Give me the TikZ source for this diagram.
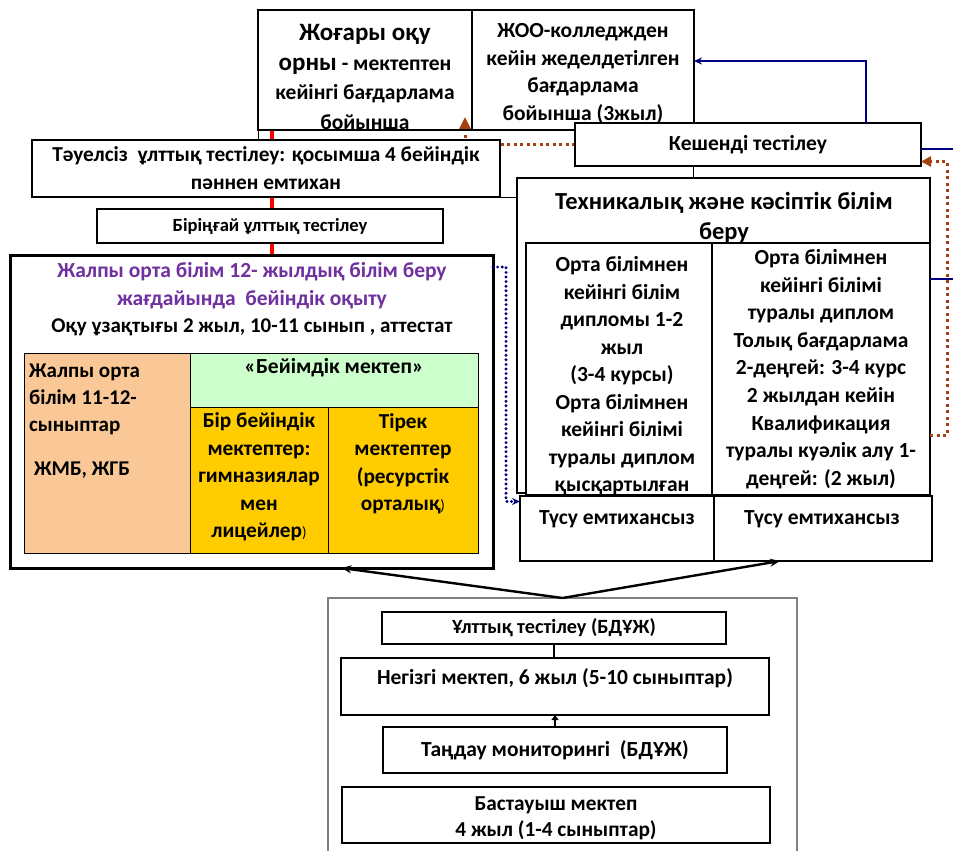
\documentclass[tikz,border=0pt]{standalone}
\usepackage{fontspec}
\setmainfont{Carlito}
\usetikzlibrary{arrows.meta,backgrounds}

\definecolor{purp}{RGB}{112,48,160}
\definecolor{peach}{RGB}{250,200,150}
\definecolor{mint}{RGB}{204,255,204}
\definecolor{gold}{RGB}{255,204,0}
\definecolor{navy}{RGB}{0,0,130}
\definecolor{rust}{RGB}{165,65,15}

\tikzset{
  box/.style={draw, line width=2.6pt, inner sep=0pt, outer sep=0pt, anchor=north west},
  cell/.style={draw, line width=0.9pt, inner sep=0pt, outer sep=0pt, anchor=north west},
  frame/.style={draw=gray, line width=1.2pt, inner sep=0pt, outer sep=0pt, anchor=north west},
  txt/.style 2 args={align=center, inner sep=0pt, font=\bfseries\fontsize{#1}{#2}\selectfont},
  redline/.style={red, line width=4.5pt},
  blueline/.style={navy, line width=2.4pt},
  rustdots/.style={rust, line width=3pt, dash pattern=on 3pt off 3.5pt},
  navydots/.style={navy, line width=3.2pt, dash pattern=on 0pt off 4.6pt, line cap=round},
  hairline/.style={line width=0.8pt},
  arr/.style={line width=2.4pt, -{Stealth[length=10pt,width=8pt]}},
}

\begin{document}
\begin{tikzpicture}[x=1pt, y=-1pt]
  \useasboundingbox (0,0) rectangle (953,851);

  % higher education
  \node[box, minimum width=214pt, minimum height=120pt] (joh) at (258,10) {};
  \node[txt={21.5}{29.5}] (johtxt) at (365,77) {{\fontsize{25}{29.5}\selectfont Жоғары оқу}\\
    {\fontsize{25}{29.5}\selectfont орны} - мектептен\\ кейінгі бағдарлама\\ бойынша};
  \node[box, fill=white, minimum width=222pt, minimum height=120pt] (zhoo) at (472,10) {};
  \node[txt={21.5}{27.7}] (zhootxt) at (583,73.5) {ЖОО-колледжден\\ кейін жеделдетілген\\ бағдарлама\\ бойынша (3жыл)};
  \node[box, fill=white, minimum width=346pt, minimum height=43pt, txt={21.5}{24}] (kesh) at (575,123) {Кешенді тестілеу};

  % tests
  \node[box, fill=white, minimum width=468pt, minimum height=57pt, txt={21.3}{28}] (tauel) at (32,140)
    {Тәуелсіз\ \ ұлттық тестілеу: қосымша 4 бейіндік\\ пәннен емтихан};
  \node[box, fill=white, minimum width=346pt, minimum height=34pt, txt={18.6}{20}] (biryn) at (97,209) {Біріңғай ұлттық тестілеу};

  % general secondary
  \node[box, line width=3pt, fill=white, minimum width=483pt, minimum height=313pt] (zhalpy) at (10,255) {};
  \node[txt={21.5}{27.5}] (zhalpyhead) at (252,299.5) {\textcolor{purp}{Жалпы орта білім 12- жылдық білім беру}\\
    \textcolor{purp}{жағдайында\ \ бейіндік оқыту}\\ {\fontsize{21}{27.5}\selectfont Оқу ұзақтығы 2 жыл, 10-11 сынып , аттестат}};
  \node[cell, fill=peach, minimum width=166pt, minimum height=200pt] (orange) at (24,353) {};
  \node[cell, fill=mint, minimum width=288pt, minimum height=54pt] (green) at (190,353) {};
  \node[cell, fill=gold, minimum width=138pt, minimum height=146pt] (yela) at (190,407) {};
  \node[cell, fill=gold, minimum width=150pt, minimum height=146pt] (yelb) at (328,407) {};
  \node[txt={21}{27}, align=left, anchor=west] (orangetxt) at (29,421)
    {Жалпы орта\\ білім 11-12-\\ сыныптар\\[17pt] \hspace*{5pt}ЖМБ, ЖГБ};
  \node[txt={21.5}{27.5}] (greentxt) at (334,368) {«Бейімдік мектеп»};
  \node[txt={21.3}{27.5}] (yelatxt) at (259,477)
    {Бір бейіндік\\ мектептер:\\ гимназиялар\\ мен\\ лицейлер{\mdseries\fontsize{15}{15}\selectfont)}};
  \node[txt={21.3}{27.5}] (yelbtxt) at (403,463.5)
    {Тірек\\ мектептер\\ (ресурстік\\ орталық{\mdseries\fontsize{15}{15}\selectfont)}};

  % technical and vocational
  \node[box, fill=white, minimum width=413pt, minimum height=315pt] (tech) at (517,178) {};
  \node[txt={24.5}{30}] (techhead) at (724,218) {Техникалық және кәсіптік білім\\ беру};
  \node[box, fill=white, minimum width=186pt, minimum height=252pt] (techl) at (526,243) {};
  \node[box, fill=white, minimum width=218pt, minimum height=252pt] (techr) at (712,243) {};
  \node[txt={21.5}{27.5}] (techltxt) at (622,376)
    {Орта білімнен\\ кейінгі білім\\ дипломы 1-2\\ жыл\\ (3-4 курсы)\\ Орта білімнен\\ кейінгі білімі\\ туралы диплом\\ қысқартылған};
  \node[txt={21.5}{27.6}] (techrtxt) at (821,369)
    {Орта білімнен\\ кейінгі білімі\\ туралы диплом\\ Толық бағдарлама\\ 2-деңгей: 3-4 курс\\ 2 жылдан кейін\\ Квалификация\\ туралы куәлік алу 1-\\ деңгей: (2 жыл)};
  \node[box, fill=white, minimum width=194pt, minimum height=65pt] (tusul) at (520,496) {};
  \node[box, fill=white, minimum width=218pt, minimum height=65pt] (tusur) at (714,496) {};
  \node[txt={21.5}{24}] (tusultxt) at (617,519) {Түсу емтихансыз};
  \node[txt={21.5}{24}] (tusurtxt) at (822,519) {Түсу емтихансыз};

  % basic and primary school
  \node[frame, minimum width=469pt, minimum height=260pt] (bot) at (328,598) {};
  \node[box, minimum width=344pt, minimum height=32pt, txt={20.2}{24}] (ult) at (382,612) {Ұлттық тестілеу (БДҰЖ)};
  \node[box, minimum width=428pt, minimum height=57pt] (neg) at (341,658) {};
  \node[txt={21.5}{24}] (negtxt) at (555,678) {Негізгі мектеп, 6 жыл (5-10 сыныптар)};
  \node[box, minimum width=344pt, minimum height=46pt, txt={21.5}{24}] (tand) at (383,727) {Таңдау мониторингі\ \ (БДҰЖ)};
  \node[box, minimum width=428pt, minimum height=56pt] (bast) at (342,787) {};
  \node[txt={21.3}{26}] (basttxt) at (556,818) {Бастауыш мектеп\\ 4 жыл (1-4 сыныптар)};

  % connectors behind the boxes
  \begin{scope}[on background layer]
    \path ([xshift=14pt]joh.south west) coordinate (redtop);
    \draw[redline] (redtop) -- (redtop |- zhalpy.north);
    \path ([xshift=100pt,yshift=13pt]joh.south) coordinate (rusttip);
    \draw[rustdots, -{Triangle[length=13pt,width=12pt]}] (kesh.west) -| (rusttip);
    \draw[hairline] (joh.south west) -- (joh.south west |- tauel.north);
    \draw[hairline] (tauel.south east) -- (tauel.south east -| tech.west);
    \path ([xshift=-55pt]kesh.south) coordinate (keshfoot);
    \draw[hairline] (keshfoot) -- (keshfoot |- tech.north);
  \end{scope}

  % blue links
  \path ([xshift=118pt]kesh.north) coordinate (bluefoot);
  \draw[blueline, -{Stealth[length=8pt,width=7pt]}] (bluefoot) |- ([yshift=9pt]zhoo.east);
  \coordinate (edgea) at (953,149);
  \draw[blueline] (edgea -| kesh.east) -- (edgea);
  \coordinate (edgeb) at (953,279);
  \draw[blueline] (edgeb -| tech.east) -- (edgeb);

  % dotted links
  \coordinate (rustturn) at (947,435);
  \draw[rustdots, -{Triangle[length=10pt,width=10pt]}] (rustturn -| tech.east) -- (rustturn) |- ([yshift=-17pt]kesh.east);
  \coordinate (dotturn) at (506,267);
  \draw[navydots, -{Stealth[length=8pt,width=7pt]}] (dotturn -| zhalpy.east) -- (dotturn) |- ([yshift=27pt]tusul.west);

  % from basic school upwards
  \draw[arr] (bot.north) -- ([xshift=90pt]zhalpy.south);
  \draw[arr] (bot.north) -- ([xshift=-43pt]tusur.south);
  \draw[line width=2pt] (ult.south) -- (ult.south |- neg.north);
  \draw[line width=1.5pt, -{Triangle[length=5pt,width=7pt]}] (tand.north) -- (tand.north |- neg.south);
\end{tikzpicture}
\end{document}
